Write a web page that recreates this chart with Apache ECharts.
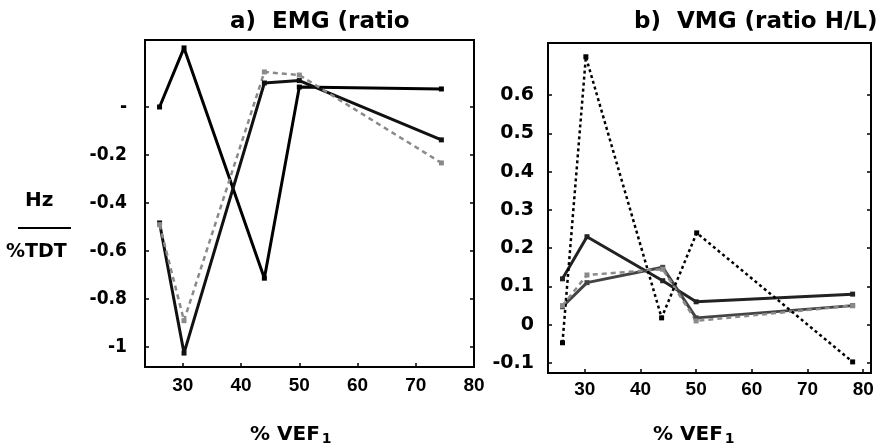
<!DOCTYPE html>
<html><head><meta charset="utf-8">
<script src="https://cdn.jsdelivr.net/npm/echarts@6/dist/echarts.min.js"></script>
<style>html,body{margin:0;padding:0;background:#fff}#c{width:879px;height:448px}</style>
</head><body><div id="c"></div>
<script>
// ---- data ----
const xTicks = [30, 40, 50, 60, 70, 80];
const emgYTicks = [0, -0.2, -0.4, -0.6, -0.8, -1];
const emgYLabels = ['-', '-0.2', '-0.4', '-0.6', '-0.8', '-1'];
const vmgYTicks = [-0.1, 0, 0.1, 0.2, 0.3, 0.4, 0.5, 0.6];
const vmgYLabels = ['-0.1', '0', '0.1', '0.2', '0.3', '0.4', '0.5', '0.6'];

const emgX = [26, 30.2, 44, 50, 74.4];
const emgA = [0.0, 0.246, -0.713, 0.083, 0.075];
const emgB = [-0.483, -1.025, 0.1, 0.11, -0.137];
const emgC = [-0.49, -0.89, 0.146, 0.133, -0.233];

const vmgX = [26, 30.4, 44, 50, 78.1];
const vmgR1 = [0.12, 0.23, 0.115, 0.06, 0.08];
const vmgR2 = [0.047, 0.11, 0.15, 0.018, 0.05];
const vmgR3 = [0.05, 0.13, 0.145, 0.01, 0.05];
const vmgDotX = [26, 30.2, 43.8, 50.1, 78.1];
const vmgDot = [-0.047, 0.70, 0.018, 0.24, -0.097];

const zip = (xs, ys) => xs.map((x, i) => [x, ys[i]]);

const FONT = "'Liberation Sans', Arial, sans-serif";
const NARROW = "'Liberation Sans Narrow', 'DejaVu Sans Condensed', sans-serif";
const DJ = "'DejaVu Sans', sans-serif";

function xAx(gi, min, max, margin) {
  return {
    type: 'value', gridIndex: gi, min: min, max: max,
    axisLine: { show: true, onZero: false, lineStyle: { color: '#000', width: 2 } },
    splitLine: { show: false },
    axisTick: { show: true, inside: true, length: 4, customValues: xTicks, lineStyle: { color: '#000', width: 1.5 } },
    axisLabel: { customValues: xTicks, color: '#000', fontWeight: 'bold', fontSize: 19, fontFamily: FONT, margin: margin }
  };
}
function yAx(gi, min, max, ticks, labels, font, size, margin) {
  return {
    type: 'value', gridIndex: gi, min: min, max: max,
    axisLine: { show: true, onZero: false, lineStyle: { color: '#000', width: 2 } },
    splitLine: { show: false },
    axisTick: { show: true, inside: true, length: 4, customValues: ticks, lineStyle: { color: '#000', width: 1.5 } },
    axisLabel: {
      customValues: ticks, color: '#000', fontWeight: 'bold', fontSize: size, fontFamily: font, margin: margin,
      formatter: v => { const i = ticks.findIndex(t => Math.abs(t - v) < 1e-6); return i >= 0 ? labels[i] : ''; }
    }
  };
}
function yRight(gi, min, max, ticks) {
  return {
    type: 'value', gridIndex: gi, min: min, max: max, position: 'right',
    axisLine: { show: true, onZero: false, lineStyle: { color: '#000', width: 2 } },
    splitLine: { show: false },
    axisTick: { show: true, inside: true, length: 4, customValues: ticks, lineStyle: { color: '#000', width: 1.5 } },
    axisLabel: { show: false }
  };
}
function line(xi, yi, data, color, type, width, sym) {
  return {
    type: 'line', xAxisIndex: xi, yAxisIndex: yi, data: data,
    symbol: sym, symbolSize: 5, animation: false,
    lineStyle: { color: color, width: width, type: type },
    itemStyle: { color: color }
  };
}

const chart = echarts.init(document.getElementById('c'));
chart.setOption({
  animation: false,
  backgroundColor: '#fff',
  grid: [
    { left: 145, top: 40, width: 329, height: 327, show: true, borderColor: '#000', borderWidth: 2 },
    { left: 548, top: 43, width: 323, height: 330, show: true, borderColor: '#000', borderWidth: 2 }
  ],
  xAxis: [xAx(0, 23.5, 80, 9), xAx(1, 23.4, 81.4, 7)],
  yAxis: [
    yAx(0, -1.083, 0.279, emgYTicks, emgYLabels, NARROW, 19, 18),
    yAx(1, -0.126, 0.736, vmgYTicks, vmgYLabels, DJ, 19, 14),
    yRight(0, -1.083, 0.279, emgYTicks),
    yRight(1, -0.126, 0.736, vmgYTicks)
  ],
  series: [
    line(0, 0, zip(emgX, emgA), '#000', 'solid', 3, 'rect'),
    line(0, 0, zip(emgX, emgB), '#111', 'solid', 3, 'rect'),
    line(0, 0, zip(emgX, emgC), '#8a8a8a', [5, 4], 2.5, 'rect'),
    line(1, 1, zip(vmgX, vmgR1), '#222', 'solid', 3, 'rect'),
    line(1, 1, zip(vmgX, vmgR2), '#444', 'solid', 3, 'rect'),
    line(1, 1, zip(vmgX, vmgR3), '#8a8a8a', [5, 4], 2.5, 'rect'),
    line(1, 1, zip(vmgDotX, vmgDot), '#000', [3, 3], 2.5, 'rect')
  ],
  graphic: [
    { type: 'text', left: 230, top: 11, style: { text: 'a)  EMG (ratio', font: 'bold 23px ' + DJ, fill: '#000' } },
    { type: 'text', left: 634, top: 11, style: { text: 'b)  VMG (ratio H/L)', font: 'bold 23px ' + DJ, fill: '#000' } },
    { type: 'text', left: 25, top: 191, style: { text: 'Hz', font: 'bold 20px ' + DJ, fill: '#000' } },
    { type: 'line', shape: { x1: 18, y1: 228, x2: 71, y2: 228 }, style: { stroke: '#000', lineWidth: 2 } },
    { type: 'text', left: 6, top: 243, style: { text: '%TDT', font: 'bold 19px ' + DJ, fill: '#000' } },
    { type: 'text', left: 250, top: 425, style: { text: '{a|% VEF}{b|1}', rich: { a: { font: 'bold 20px ' + DJ, fill: '#000' }, b: { font: 'bold 14px ' + DJ, fill: '#000', padding: [8, 0, 0, 2] } } } },
    { type: 'text', left: 653, top: 425, style: { text: '{a|% VEF}{b|1}', rich: { a: { font: 'bold 20px ' + DJ, fill: '#000' }, b: { font: 'bold 14px ' + DJ, fill: '#000', padding: [8, 0, 0, 2] } } } }
  ]
});
</script>
</body></html>
